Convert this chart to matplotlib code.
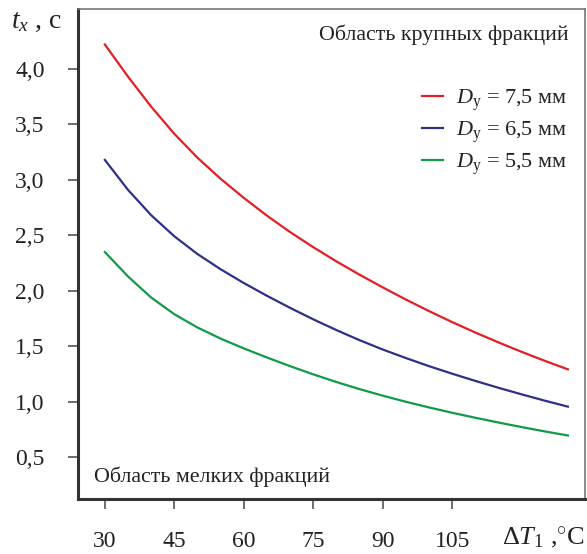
import numpy as np
import matplotlib
matplotlib.use('Agg')
from matplotlib import pyplot as plt

plt.rcParams['font.family'] = ['Liberation Serif', 'DejaVu Serif']
plt.rcParams['mathtext.fontset'] = 'custom'
plt.rcParams['mathtext.rm'] = 'Liberation Serif'
plt.rcParams['mathtext.it'] = 'Liberation Serif:italic'

# температурный напор, °C
dT = [30, 35, 40, 45, 50, 55, 60, 65, 70, 75, 80, 85, 90, 95, 100, 105, 110, 115, 120, 125, 130]
# время, с
t_75 = [4.22, 3.93, 3.66, 3.415, 3.20, 3.01, 2.838, 2.678, 2.53, 2.394, 2.266,
        2.146, 2.032, 1.922, 1.818, 1.719, 1.625, 1.536, 1.451, 1.37, 1.293]
t_65 = [3.18, 2.91, 2.682, 2.492, 2.332, 2.195, 2.071, 1.956, 1.847, 1.744, 1.647,
        1.556, 1.472, 1.395, 1.322, 1.254, 1.189, 1.127, 1.068, 1.011, 0.957]
t_55 = [2.35, 2.13, 1.94, 1.79, 1.67, 1.57, 1.482, 1.40, 1.322, 1.248, 1.179,
        1.115, 1.056, 1.001, 0.95, 0.902, 0.857, 0.814, 0.773, 0.734, 0.697]

xticks = [30, 45, 60, 75, 90, 105]
yticks = [0.5, 1.0, 1.5, 2.0, 2.5, 3.0, 3.5, 4.0]
ylabels = ['0,5', '1,0', '1,5', '2,0', '2,5', '3,0', '3,5', '4,0']

fig = plt.figure(figsize=(5.87, 5.54), dpi=100)
ax = fig.add_axes([0.1329, 0.0993, 0.8637, 0.8845])

ax.plot(dT, t_75, color='#e31e24', lw=1.6, label=r'$D_{\mathrm{у}}$ = 7,5 мм')
ax.plot(dT, t_65, color='#2e3088', lw=1.6, label=r'$D_{\mathrm{у}}$ = 6,5 мм')
ax.plot(dT, t_55, color='#119a48', lw=1.6, label=r'$D_{\mathrm{у}}$ = 5,5 мм')

ax.set_xlim(24.2, 133.7)
ax.set_ylim(0.125, 4.54)
ax.set_xticks(xticks)
ax.set_xticklabels([str(v) for v in xticks])
ax.set_yticks(yticks)
ax.set_yticklabels(ylabels)
ax.tick_params(axis='both', direction='out', length=7, width=1.2, color='#555555',
               labelsize=17, labelcolor='#222222')
ax.tick_params(axis='y', pad=17)
ax.tick_params(axis='x', pad=16)

for s in ['left', 'bottom']:
    ax.spines[s].set_linewidth(2.2)
    ax.spines[s].set_color('#333333')
for s in ['top', 'right']:
    ax.spines[s].set_linewidth(1.2)
    ax.spines[s].set_color('#777777')

leg = ax.legend(loc='upper right', bbox_to_anchor=(1.005, 0.88), frameon=False,
                fontsize=16, handlelength=0.95, handletextpad=0.6, labelspacing=0.29)
for t in leg.get_texts():
    t.set_color('#222222')

ax.text(0.968, 0.947, 'Область крупных фракций', transform=ax.transAxes,
        ha='right', va='center', fontsize=15.8, color='#222222')
ax.text(0.032, 0.045, 'Область мелких фракций', transform=ax.transAxes,
        ha='left', va='center', fontsize=15.8, color='#222222')

fig.text(0.018, 0.962, '$t_x$ , с', fontsize=20, color='#222222', ha='left', va='center')
fig.text(0.997, 0.03, r'$\Delta T_1$ ,$^{\circ}$C', fontsize=19, color='#222222',
         ha='right', va='center')

fig.savefig('out.png', dpi=100)
